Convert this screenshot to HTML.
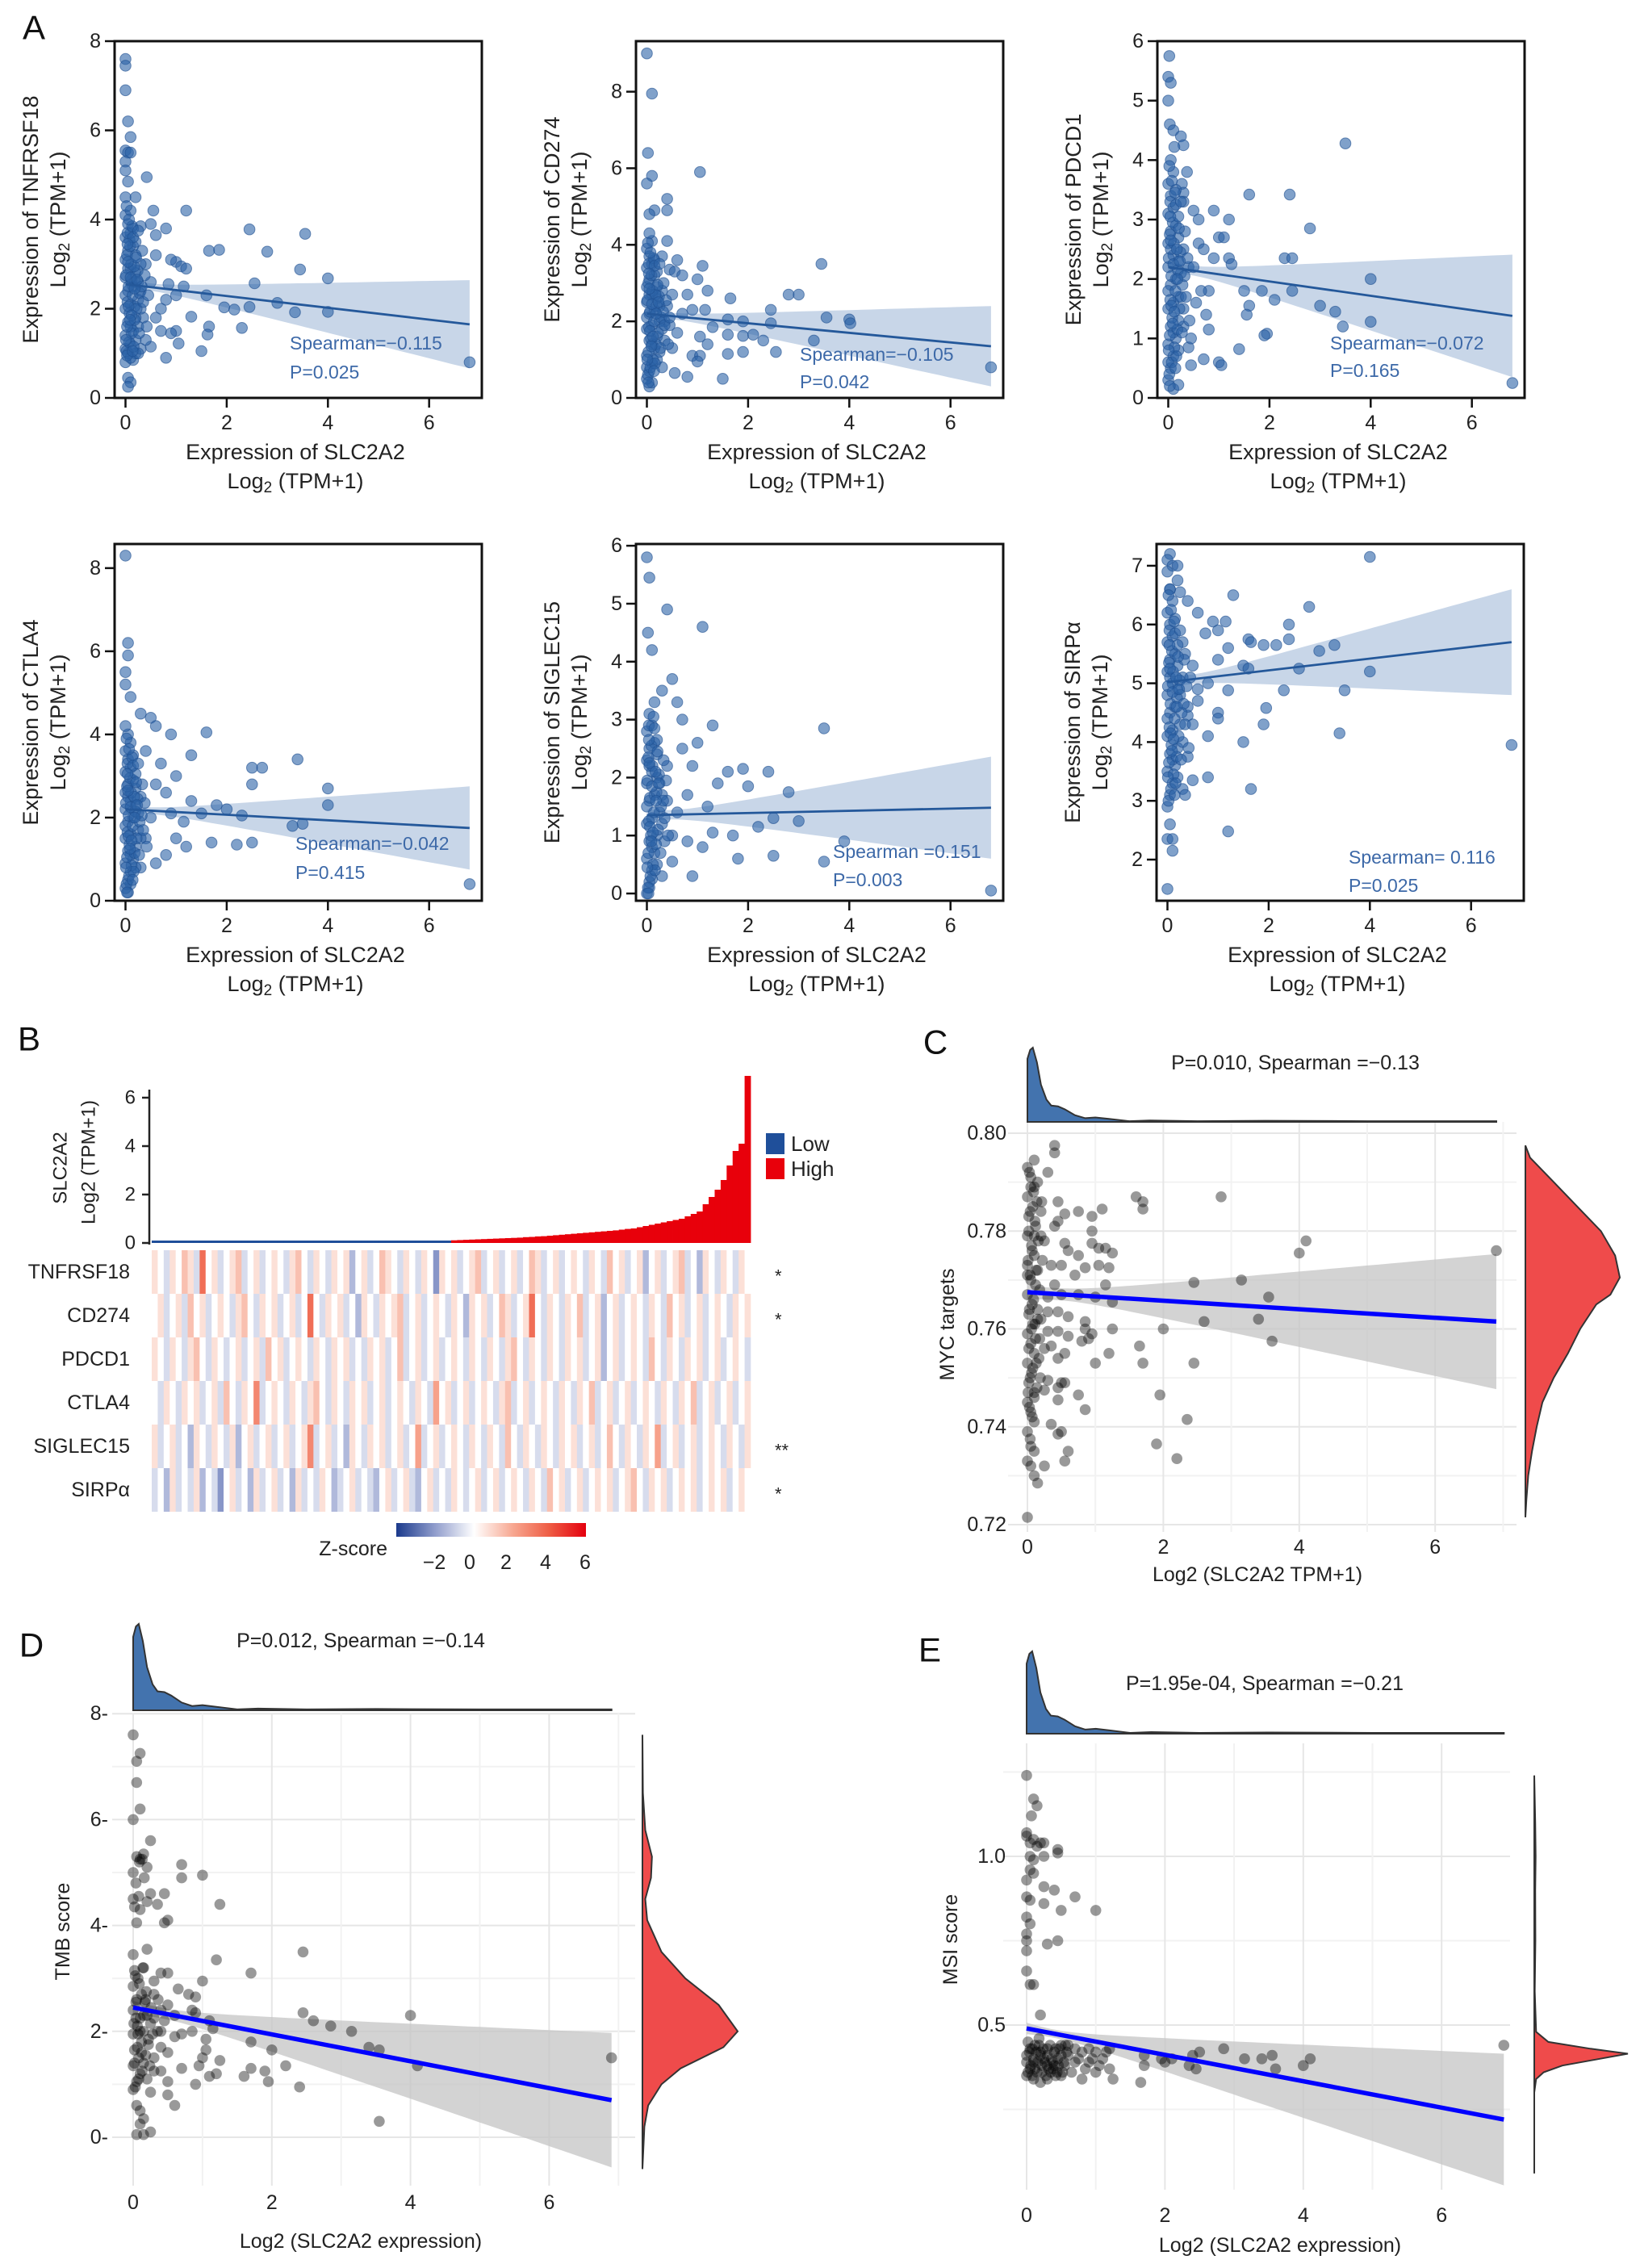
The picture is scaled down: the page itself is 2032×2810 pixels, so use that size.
<!DOCTYPE html>
<html><head><meta charset="utf-8"><style>
html,body{margin:0;padding:0;background:#fff;}
svg{display:block;font-family:"Liberation Sans",Arial,sans-serif;}
</style></head><body>
<svg id="fig" width="2032" height="2810" viewBox="0 0 2032 2810" xmlns="http://www.w3.org/2000/svg">
<defs>
<linearGradient id="zgrad" x1="0" x2="1" y1="0" y2="0">
<stop offset="0" stop-color="#1b3a8c"/><stop offset="0.2" stop-color="#8e9bcb"/><stop offset="0.41" stop-color="#ffffff"/><stop offset="0.62" stop-color="#f7a58e"/><stop offset="0.81" stop-color="#ee5b43"/><stop offset="1" stop-color="#e4000e"/>
</linearGradient>
</defs>
</svg>
<script>
// ---------- Panel A data ----------
const tnfrsf18Pts=[[0,7.6],[0,7.45],[0,6.9],[0.05,6.2],[0.1,5.85],[0,5.55],[0.05,5.5],[0.1,5.5],[0,5.3],[0,5.1],[0.05,4.85],[0,4.5],[0.2,4.5],[0.42,4.95],[0.55,4.2],[1.2,4.2],[0.5,3.9],[0.3,3.85],[0.8,3.8],[0.6,3.65],[2.45,3.78],[3.55,3.68],[1.65,3.3],[1.85,3.32],[2.8,3.28],[3.45,2.88],[4.0,2.68],[2.55,2.57],[1.0,3.05],[1.1,2.95],[1.2,2.9],[0.9,3.1],[1.6,2.3],[1.95,2.03],[2.15,1.98],[2.45,2.04],[3.0,2.13],[3.35,1.92],[4.0,1.93],[1.3,1.82],[1.65,1.6],[1.62,1.42],[2.3,1.57],[1.5,1.05],[0.8,0.9],[1.0,1.5],[1.05,1.22],[0.9,1.45],[6.8,0.8],[0.05,0.45],[0.1,0.35],[0.05,0.25],[0.15,0.85],[0.2,1.0],[0.3,1.1],[0.5,1.15],[0.4,1.3],[0.6,1.8],[0.7,2.0],[0.8,2.2],[0.5,2.6],[0.4,3.0],[0.6,3.2],[0.3,2.4],[0.35,1.8],[0.25,1.6],[0.7,1.5],[0.85,2.55],[1.15,2.5],[1.0,2.3],
[0,0.8],[0.05,1.0],[0.1,1.2],[0,1.4],[0.15,1.5],[0.05,1.7],[0.2,1.8],[0,2.0],[0.1,2.1],[0.25,2.2],[0.05,2.4],[0.15,2.5],[0,2.7],[0.2,2.8],[0.1,2.9],[0,3.1],[0.05,3.3],[0.15,3.4],[0,3.6],[0.1,3.7],[0.05,3.9],[0,4.1],[0.1,4.2],[0.2,3.2],[0.25,2.6],[0.3,2.0],[0.2,1.3],[0.3,3.0],[0.1,1.6],[0,2.3],[0.05,2.9],[0.15,3.8],[0,1.1],[0.1,0.9],[0.25,1.0],[0.12,2.65],[0.08,3.55],[0.18,2.05]];
const tnfrsf18Dense=[[0.02,1.05],[0.07,1.25],[0.12,1.45],[0.03,1.6],[0.18,1.75],[0.08,1.9],[0.22,2.0],[0.04,2.15],[0.14,2.3],[0.28,2.35],[0.06,2.5],[0.19,2.6],[0.01,2.75],[0.24,2.85],[0.11,3.0],[0.03,3.2],[0.09,3.4],[0.2,3.5],[0.04,3.7],[0.13,3.85],[0.07,4.0],[0.02,4.3],[0.17,2.95],[0.32,2.5],[0.35,2.15],[0.27,1.45],[0.33,3.3],[0.16,1.15],[0.06,2.05],[0.1,2.7],[0.21,3.15],[0.03,0.95],[0.15,3.6],[0.38,2.75],[0.45,2.3],[0.42,1.6],[0.25,3.75],[0.12,1.85],[0.05,3.05],[0.18,2.45],[0.01,1.3],[0.09,1.75],[0.23,2.65],[0.04,3.45],[0.14,1.05]];
const cd274Pts=[[0,9.0],[0.1,7.95],[0.02,6.4],[0.1,5.8],[0,5.6],[1.05,5.9],[0.4,5.2],[0.4,4.9],[0.15,4.9],[0.05,4.8],[0.4,4.1],[0.3,3.7],[0.6,3.6],[0.45,3.35],[0.55,3.3],[0.7,3.2],[1.1,3.45],[1.0,3.1],[1.2,2.8],[0.8,2.7],[1.65,2.6],[2.8,2.7],[3.0,2.7],[3.45,3.5],[2.45,2.3],[2.45,1.95],[3.55,2.1],[4.0,2.05],[4.02,1.95],[1.6,2.05],[1.9,2.0],[1.3,1.85],[1.6,1.65],[1.9,1.62],[2.1,1.65],[2.3,1.5],[3.3,1.5],[1.05,1.6],[1.2,1.4],[0.9,1.1],[1.05,1.1],[1.0,0.95],[1.6,1.15],[1.9,1.2],[2.55,1.2],[0.8,0.55],[1.5,0.5],[0.55,0.65],[6.8,0.8],[0.05,0.3],[0.1,0.4],[0.3,0.8],[0.5,1.3],[0.6,1.7],[0.7,2.2],[0.9,2.3],[1.15,2.3],[0.5,2.7],[0.35,2.0],[0.25,1.2],
[0,0.5],[0.05,0.7],[0.1,0.9],[0,1.1],[0.15,1.3],[0.05,1.5],[0.2,1.6],[0,1.8],[0.1,1.9],[0.25,2.0],[0.05,2.2],[0.15,2.3],[0,2.5],[0.2,2.6],[0.1,2.7],[0,2.9],[0.05,3.1],[0.15,3.2],[0,3.4],[0.1,3.5],[0.05,3.7],[0,3.9],[0.1,4.1],[0.05,4.3],[0.2,2.9],[0.25,2.4],[0.3,1.8],[0.2,1.0],[0.3,2.8],[0.1,1.4],[0,2.1],[0.05,2.7],[0.15,3.6],[0,0.8],[0.35,1.5],[0.4,2.4],[0.45,1.9]];
const cd274Dense=[[0.02,0.6],[0.07,0.8],[0.12,1.0],[0.03,1.2],[0.18,1.4],[0.08,1.55],[0.22,1.7],[0.04,1.85],[0.14,2.0],[0.28,2.1],[0.06,2.25],[0.19,2.4],[0.01,2.55],[0.24,2.65],[0.11,2.8],[0.03,3.0],[0.09,3.2],[0.2,3.3],[0.04,3.5],[0.13,3.65],[0.07,3.8],[0.02,4.05],[0.17,2.7],[0.32,2.25],[0.35,1.9],[0.27,1.3],[0.33,3.0],[0.16,0.9],[0.06,1.75],[0.1,2.45],[0.21,2.95],[0.03,0.4],[0.15,3.45],[0.38,2.55],[0.45,2.1],[0.42,1.4],[0.25,3.5],[0.12,1.6],[0.05,2.85],[0.18,2.2],[0.01,1.0],[0.09,1.35],[0.23,2.5],[0.04,3.25],[0.14,0.7]];
const pdcd1Pts=[[0.02,5.75],[0,5.4],[0.05,5.3],[0,5.0],[0.03,4.6],[0.1,4.5],[0.25,4.4],[0.3,4.25],[0.12,4.22],[0.37,3.8],[3.5,4.28],[0.27,3.6],[0.3,3.45],[0.3,3.3],[0.5,3.15],[0.6,3.0],[1.6,3.42],[2.4,3.42],[2.8,2.85],[0.9,3.15],[1.2,3.0],[1.0,2.7],[1.1,2.7],[0.6,2.6],[0.7,2.5],[0.9,2.35],[1.2,2.35],[1.25,2.25],[2.3,2.35],[2.45,2.35],[4.0,2.0],[0.4,2.2],[0.5,2.2],[0.8,1.8],[0.65,1.8],[1.5,1.8],[1.6,1.55],[1.55,1.4],[1.85,1.8],[2.1,1.65],[2.45,1.8],[3.0,1.55],[3.3,1.45],[3.45,1.2],[4.0,1.28],[1.95,1.08],[1.9,1.05],[0.75,1.4],[0.8,1.15],[0.7,0.65],[0.4,0.85],[1.0,0.6],[1.05,0.55],[1.4,0.82],[0.45,0.55],[0.1,0.15],[0.2,0.22],[6.8,0.25],[0.3,1.2],[0.2,1.7],[0.45,1.0],[0.55,1.6],
[0,0.3],[0.05,0.5],[0.1,0.7],[0,0.9],[0.15,1.0],[0.05,1.2],[0.2,1.3],[0,1.5],[0.1,1.6],[0.25,1.7],[0.05,1.9],[0.15,2.0],[0,2.2],[0.2,2.3],[0.1,2.4],[0,2.6],[0.05,2.8],[0.15,2.9],[0,3.1],[0.1,3.2],[0.05,3.4],[0,3.6],[0.1,3.8],[0.05,4.0],[0.2,2.7],[0.25,2.1],[0.3,1.5],[0.2,0.8],[0.3,2.5],[0.1,1.1],[0,1.8],[0.05,2.5],[0.15,3.5],[0,0.6]];
const pdcd1Dense=[[0.02,0.4],[0.07,0.6],[0.12,0.85],[0.03,1.05],[0.18,1.15],[0.08,1.35],[0.22,1.5],[0.04,1.65],[0.14,1.8],[0.28,1.9],[0.06,2.05],[0.19,2.15],[0.01,2.35],[0.24,2.45],[0.11,2.6],[0.03,2.75],[0.09,2.95],[0.2,3.05],[0.04,3.3],[0.13,3.45],[0.07,3.65],[0.02,3.9],[0.17,2.5],[0.32,2.05],[0.35,1.7],[0.27,1.1],[0.33,2.8],[0.16,0.7],[0.06,1.55],[0.1,2.25],[0.21,2.85],[0.03,0.2],[0.15,3.25],[0.38,2.35],[0.42,1.3],[0.25,3.3],[0.12,1.45],[0.05,2.65],[0.18,2.0],[0.01,0.8],[0.09,1.25],[0.23,2.3],[0.04,3.05],[0.14,0.5]];
const ctla4Pts=[[0,8.3],[0.05,6.2],[0.05,5.9],[0,5.5],[0,5.2],[0.1,4.9],[0.3,4.5],[0.5,4.4],[0.6,4.2],[0.9,4.0],[1.6,4.05],[1.3,3.5],[3.4,3.4],[2.5,3.2],[2.7,3.2],[2.5,2.8],[1.8,2.3],[2.0,2.2],[2.3,2.05],[1.5,2.1],[4.0,2.7],[4.0,2.3],[3.5,1.85],[3.3,1.8],[2.5,1.4],[2.2,1.35],[1.7,1.4],[1.2,1.3],[1.0,1.5],[0.8,1.1],[0.6,0.9],[6.8,0.4],[0.05,0.2],[0.1,0.4],[0.3,0.8],[0.4,1.5],[0.5,2.0],[0.8,2.6],[1.0,3.0],[0.7,3.3],[1.3,2.4],[1.15,1.9],[0.9,2.1],[0.6,2.8],[0.4,3.6],
[0,0.3],[0.05,0.5],[0.1,0.7],[0,0.9],[0.15,1.0],[0.05,1.2],[0.2,1.3],[0,1.5],[0.1,1.6],[0.25,1.7],[0.05,1.9],[0.15,2.0],[0,2.2],[0.2,2.3],[0.1,2.4],[0,2.6],[0.05,2.8],[0.15,2.9],[0,3.1],[0.1,3.2],[0.05,3.4],[0,3.6],[0.1,3.8],[0.05,4.0],[0.2,2.7],[0.25,2.1],[0.3,1.5],[0.2,0.8],[0.3,2.5],[0.1,1.1],[0,1.8],[0.05,2.5],[0.15,3.5],[0,4.2]];
const ctla4Dense=[[0.02,0.4],[0.07,0.6],[0.12,0.85],[0.03,1.05],[0.18,1.15],[0.08,1.35],[0.22,1.5],[0.04,1.65],[0.14,1.8],[0.28,1.9],[0.06,2.05],[0.19,2.15],[0.01,2.35],[0.24,2.45],[0.11,2.6],[0.03,2.75],[0.09,2.95],[0.2,3.05],[0.04,3.3],[0.13,3.45],[0.07,3.65],[0.02,3.9],[0.17,2.5],[0.32,2.05],[0.35,1.7],[0.27,1.1],[0.33,2.8],[0.16,0.7],[0.06,1.55],[0.1,2.25],[0.21,2.85],[0.03,0.2],[0.15,3.25],[0.38,2.35],[0.42,1.3],[0.25,3.3],[0.12,1.45],[0.05,2.65],[0.18,2.0],[0.01,0.8],[0.09,1.25],[0.23,2.3],[0.04,3.05],[0.14,0.5]];
const siglec15Pts=[[0,5.8],[0.05,5.45],[0.02,4.5],[0.1,4.2],[0.4,4.9],[1.1,4.6],[0.3,3.5],[0.5,3.7],[0.6,3.3],[0.7,3.0],[1.3,2.9],[1.0,2.6],[0.9,2.2],[1.6,2.1],[1.9,2.15],[2.4,2.1],[3.5,2.85],[1.4,1.9],[2.0,1.85],[2.8,1.75],[2.5,1.3],[2.2,1.15],[3.0,1.25],[1.7,1.0],[1.3,1.05],[1.1,0.8],[1.8,0.6],[2.5,0.65],[3.5,0.55],[3.9,0.9],[0.9,0.3],[0.3,0.3],[0.5,0.55],[6.8,0.05],[0.05,0.1],[0.1,0.25],[0.6,1.4],[0.8,1.7],[1.2,1.5],[0.4,2.2],[0.7,2.5],[0.5,1.0],[0.8,0.9],
[0,0.0],[0.05,0.2],[0.1,0.4],[0,0.6],[0.15,0.7],[0.05,0.9],[0.2,1.0],[0,1.2],[0.1,1.3],[0.25,1.4],[0.05,1.6],[0.15,1.7],[0,1.9],[0.2,2.0],[0.1,2.1],[0,2.3],[0.05,2.5],[0.15,2.6],[0,2.8],[0.1,2.9],[0.05,3.1],[0.2,2.4],[0.25,1.9],[0.3,1.2],[0.2,0.5],[0.3,1.7],[0.1,0.8],[0,1.5],[0.05,2.2],[0.15,3.3],[0.35,0.9],[0.4,1.6]];
const siglec15Dense=[[0.02,0.1],[0.07,0.3],[0.12,0.5],[0.03,0.7],[0.18,0.85],[0.08,1.0],[0.22,1.1],[0.04,1.25],[0.14,1.4],[0.28,1.5],[0.06,1.65],[0.19,1.75],[0.01,1.95],[0.24,2.05],[0.11,2.2],[0.03,2.35],[0.09,2.55],[0.2,2.65],[0.04,2.9],[0.13,3.05],[0.17,2.1],[0.32,1.6],[0.35,1.3],[0.27,0.7],[0.33,2.3],[0.16,0.4],[0.06,1.15],[0.1,1.85],[0.21,2.45],[0.03,0.0],[0.15,2.85],[0.38,1.95],[0.42,1.0],[0.12,1.05],[0.05,2.25],[0.18,1.6],[0.01,0.45],[0.09,0.9],[0.23,1.9],[0.04,2.65]];
const sirpaPts=[[0.05,7.2],[0,7.1],[0.1,7.0],[0.2,7.0],[0.2,6.75],[0,6.9],[0.25,6.55],[0.05,6.6],[1.3,6.5],[2.8,6.3],[4.0,7.15],[0.4,6.4],[0.6,6.2],[0.9,6.05],[1.15,6.05],[1.0,5.9],[0.75,5.85],[1.6,5.75],[1.65,5.7],[1.9,5.65],[2.15,5.65],[2.4,6.0],[2.4,5.75],[3.3,5.65],[3.0,5.55],[1.2,5.6],[1.5,5.3],[1.6,5.25],[2.6,5.25],[4.0,5.2],[1.2,4.88],[2.3,4.88],[3.5,4.88],[1.0,4.5],[1.0,4.4],[1.95,4.58],[1.9,4.3],[0.8,4.1],[1.5,4.0],[3.4,4.15],[6.8,3.95],[0.4,3.75],[0.3,3.2],[0.35,3.1],[0.5,3.35],[0.8,3.4],[1.65,3.2],[1.2,2.48],[0.05,2.6],[0,2.35],[0.1,2.35],[0.1,2.15],[0,1.5],[0.6,4.7],[0.4,4.45],[0.5,5.3],[0.3,5.7],[0.8,5.0],[1.0,5.4],[0.6,4.9],
[0,2.9],[0.05,3.1],[0.1,3.3],[0,3.5],[0.15,3.6],[0.05,3.8],[0.2,3.9],[0,4.1],[0.1,4.2],[0.25,4.3],[0.05,4.5],[0.15,4.6],[0,4.8],[0.2,4.9],[0.1,5.0],[0,5.2],[0.05,5.4],[0.15,5.5],[0,5.7],[0.1,5.8],[0.05,6.0],[0,6.2],[0.1,6.4],[0.05,6.6],[0.2,5.3],[0.25,4.8],[0.3,4.0],[0.2,3.4],[0.3,5.1],[0.1,3.7],[0,4.4],[0.05,5.1],[0.15,6.1],[0.35,5.5],[0.4,4.6]];
const sirpaDense=[[0.02,3.0],[0.07,3.2],[0.12,3.45],[0.03,3.65],[0.18,3.75],[0.08,3.95],[0.22,4.1],[0.04,4.25],[0.14,4.4],[0.28,4.5],[0.06,4.65],[0.19,4.75],[0.01,4.95],[0.24,5.05],[0.11,5.2],[0.03,5.35],[0.09,5.55],[0.2,5.65],[0.04,5.9],[0.13,6.05],[0.07,6.25],[0.02,6.5],[0.17,5.1],[0.32,4.65],[0.35,4.3],[0.27,3.7],[0.33,5.4],[0.16,3.3],[0.06,4.15],[0.1,4.85],[0.21,5.45],[0.15,5.85],[0.38,4.95],[0.42,3.9],[0.25,5.9],[0.12,4.05],[0.05,5.25],[0.18,4.6],[0.01,3.4],[0.09,3.85],[0.23,4.9],[0.04,5.65],[0.14,3.1],[0.45,5.1],[0.5,4.3]];
// fit params: [y at x=0, y at x=6.8, half-width at 6.8, min half-width]
const tnfrsf18Fit=[2.55,1.65,0.99,0.08];
const cd274Fit=[2.2,1.35,1.05,0.08];
const pdcd1Fit=[2.2,1.38,1.03,0.08];
const ctla4Fit=[2.2,1.75,1.0,0.08];
const siglec15Fit=[1.35,1.48,0.88,0.08];
const sirpaFit=[5.02,5.7,0.9,0.08];

// ---------- Panel B data ----------
const heatGenes=['TNFRSF18','CD274','PDCD1','CTLA4','SIGLEC15','SIRPα'];
const heatStars=['*','*','','','**','*'];
const heatTNFRSF18=[1,0,-1,1,0,2,1,-1,5,0,1,-1,0,1,2,-1,0,1,-1,0,1,0,-1,1,2,0,-1,1,0,-1,1,0,1,-2,0,1,-1,0,2,1,0,-1,1,0,-1,1,0,-3,1,0,1,-1,0,1,2,-1,0,1,-1,0,1,-1,0,2,1,-1,0,1,-1,0,1,0,-1,1,0,-1,2,0,1,-1,0,1,-2,0,1,-1,0,1,2,-1,0,-2,1,0,-1,1,0,-1,1,0];
const heatCD274=[0,1,-1,0,1,-1,2,0,1,-1,0,1,0,-1,1,2,0,-1,1,0,1,-1,0,1,-1,0,5,0,-1,1,0,1,-1,0,-2,1,0,-1,1,0,1,2,-1,0,1,-1,0,1,0,-1,1,0,-2,1,0,1,-1,0,2,1,-1,0,1,5,0,-1,1,0,-1,1,0,2,-1,0,1,-2,0,1,-1,0,1,0,-1,1,0,-1,2,0,1,-1,0,1,-1,0,1,0,-1,1,0,1];
const heatPDCD1=[1,0,-1,1,0,-1,1,2,0,-1,1,0,-1,0,1,-1,0,1,-1,2,0,1,-1,0,1,0,-1,1,0,-1,1,0,1,-1,0,-1,1,0,1,-1,0,2,-1,0,1,-1,0,1,-1,0,1,0,-1,1,0,-1,1,0,-1,1,2,0,-1,1,0,-1,1,0,-1,1,0,1,-1,0,1,-2,0,1,-1,0,1,0,-1,2,0,-1,1,0,-1,1,0,1,-1,0,1,-1,0,1,0,-1];
const heatCTLA4=[0,-1,1,0,-1,1,0,1,-1,0,1,-1,2,0,-1,1,0,4,-1,0,1,0,-1,1,0,-1,1,2,0,-1,1,0,-1,1,0,1,-1,0,1,-1,0,1,0,-1,1,0,-1,3,0,1,-1,0,1,-1,0,1,0,-1,1,2,-1,0,1,-1,0,1,0,-1,1,0,-1,1,0,2,-1,0,1,-1,0,1,-1,0,1,0,-1,1,0,-1,1,0,2,-1,0,1,-1,0,1,-1,0,1];
const heatSIGLEC15=[1,-1,0,1,-1,0,-2,1,0,-1,1,0,-1,1,-2,0,1,-1,0,1,-1,0,1,-1,0,1,4,-1,0,1,-1,0,-2,1,0,-1,1,0,1,-1,0,1,-1,0,3,-1,0,1,-1,0,1,0,-1,1,0,-1,1,0,-1,2,0,-1,1,0,-1,1,0,-1,1,0,1,-1,0,1,-1,0,2,0,-1,1,0,-1,1,0,3,-1,0,1,-1,0,1,-1,0,1,0,-1,1,0,-1,1];
const heatSIRPA=[-1,0,-2,1,-1,0,-1,1,-2,0,-1,-3,0,1,-1,0,-2,1,-1,0,1,-1,0,-2,1,-1,0,-1,1,0,-2,-1,0,1,-1,0,-1,-2,0,1,-1,0,1,-1,-2,0,1,-1,0,-1,1,0,-1,0,1,-1,0,1,-1,0,1,0,-1,1,0,-1,2,0,1,-1,0,1,-1,0,1,0,1,-1,0,1,2,0,-1,1,0,1,-1,0,1,0,1,-1,0,1,0,1,-1,0,1,0];
const barGroups=['Low','High'];
const barValues=[0.02,0.02,0.02,0.02,0.02,0.02,0.02,0.02,0.02,0.02,0.02,0.02,0.02,0.02,0.02,0.02,0.02,0.02,0.02,0.02,0.03,0.03,0.03,0.03,0.03,0.03,0.03,0.03,0.03,0.03,0.04,0.04,0.04,0.04,0.04,0.05,0.05,0.05,0.05,0.05,0.06,0.06,0.06,0.07,0.07,0.08,0.08,0.09,0.09,0.1,
0.11,0.12,0.13,0.14,0.15,0.16,0.17,0.18,0.19,0.2,0.21,0.22,0.24,0.25,0.27,0.28,0.3,0.32,0.34,0.36,0.38,0.4,0.42,0.44,0.46,0.48,0.5,0.52,0.55,0.58,0.6,0.65,0.7,0.75,0.8,0.85,0.9,0.95,1.0,1.1,1.2,1.3,1.6,1.9,2.2,2.6,3.2,3.8,4.1,6.9];
const barLowCount=50;

// ---------- Panel C data ----------
const mycPts=[[0.4,0.7975],[0.4,0.796],[0.1,0.7945],[0.3,0.792],[0.15,0.790],[1.6,0.787],[1.7,0.786],[1.7,0.7845],[2.85,0.787],[0.45,0.786],[0.55,0.7835],[0.75,0.784],[0.95,0.783],[1.1,0.7845],[0.45,0.782],[0.4,0.781],[0.25,0.778],[0.55,0.7775],[0.6,0.776],[0.75,0.775],[0.95,0.7775],[0.95,0.780],[1.05,0.7765],[1.15,0.7765],[1.25,0.7755],[4.1,0.778],[4.0,0.7755],[6.9,0.776],[0.35,0.773],[0.5,0.773],[0.7,0.771],[0.85,0.7725],[1.05,0.773],[1.2,0.7725],[1.15,0.769],[3.15,0.770],[2.45,0.7695],[0.4,0.769],[0.3,0.7665],[0.5,0.767],[0.75,0.767],[1.0,0.7665],[1.25,0.7655],[3.55,0.7665],[0.3,0.7635],[0.45,0.7635],[0.6,0.7625],[0.85,0.7615],[0.85,0.760],[1.25,0.760],[2.0,0.760],[2.6,0.7615],[3.4,0.762],[0.3,0.7595],[0.45,0.7595],[0.6,0.7585],[0.8,0.7575],[0.9,0.758],[0.95,0.759],[3.6,0.7575],[1.65,0.7565],[0.35,0.7565],[0.55,0.755],[0.45,0.754],[1.2,0.755],[1.7,0.753],[2.45,0.753],[1.0,0.753],[0.3,0.7495],[0.5,0.749],[0.55,0.749],[0.45,0.748],[0.25,0.7475],[0.75,0.7465],[0.45,0.7455],[1.95,0.7465],[0.85,0.7435],[2.35,0.7415],[0.35,0.7405],[0.5,0.739],[0.45,0.7385],[1.9,0.7365],[2.2,0.7335],[0.6,0.735],[0.55,0.733],[0.25,0.732],[0.1,0.730],[0.15,0.7285],[0,0.7215],[0.05,0.736],[0.1,0.735],[0,0.733],[0.05,0.732],
[0,0.793],[0.05,0.791],[0.1,0.789],[0,0.787],[0.08,0.785],[0.02,0.783],[0.12,0.781],[0,0.779],[0.06,0.777],[0.1,0.775],[0,0.773],[0.04,0.771],[0.12,0.769],[0,0.767],[0.07,0.765],[0.02,0.763],[0.11,0.761],[0,0.759],[0.05,0.757],[0.1,0.755],[0,0.753],[0.06,0.751],[0.02,0.749],[0.1,0.747],[0,0.745],[0.05,0.743],[0.1,0.741],[0,0.739],[0.04,0.7375],[0.15,0.772],[0.15,0.764],[0.18,0.758],[0.2,0.779],[0.2,0.784],
[0.03,0.792],[0.09,0.788],[0.14,0.786],[0.04,0.784],[0.11,0.782],[0.02,0.780],[0.16,0.778],[0.07,0.776],[0.01,0.774],[0.13,0.772],[0.05,0.770],[0.18,0.768],[0.09,0.766],[0.03,0.764],[0.15,0.762],[0.06,0.760],[0.12,0.758],[0.02,0.756],[0.17,0.754],[0.08,0.752],[0.04,0.750],[0.14,0.748],[0.1,0.746],[0.03,0.744],[0.07,0.742],[0.2,0.762],[0.22,0.774],[0.25,0.756],[0.19,0.750],[0.21,0.786],[0.05,0.789],[0.1,0.779],[0,0.771],[0.08,0.761],[0.13,0.753],[0.01,0.747]];
const mycFit=[0.7675,0.7615,0.0138,0.0012];
const xDensVals=[[0,0.85],[0.04,0.97],[0.08,1.0],[0.14,0.8],[0.2,0.5],[0.28,0.3],[0.35,0.22],[0.45,0.21],[0.55,0.17],[0.7,0.09],[0.85,0.05],[1.0,0.06],[1.2,0.04],[1.5,0.01],[1.8,0.02],[2.5,0.01],[3.5,0.015],[5.0,0.01],[6.9,0.01]];
const mycYDens=[[0.7975,0],[0.795,0.05],[0.79,0.3],[0.785,0.55],[0.78,0.8],[0.775,0.95],[0.7705,1.0],[0.767,0.9],[0.765,0.75],[0.76,0.58],[0.755,0.45],[0.75,0.3],[0.745,0.18],[0.74,0.12],[0.735,0.07],[0.73,0.03],[0.725,0.01],[0.7215,0]];

// ---------- Panel D data ----------
const tmbPts=[[0,7.6],[0.05,7.1],[0.1,7.25],[0.05,6.7],[0.1,6.2],[0,6.0],[0.25,5.6],[0.15,5.35],[0.1,5.25],[0.05,5.3],[0,5.0],[0.2,5.1],[0.7,5.15],[0.7,4.9],[1.0,4.95],[0.25,4.6],[0.45,4.6],[0.35,4.4],[0.2,4.45],[0.1,4.3],[1.25,4.4],[0.5,4.1],[0.45,4.05],[0.05,4.05],[0,4.5],[0.2,3.55],[0,3.45],[2.45,3.5],[1.2,3.35],[1.7,3.1],[0.5,3.1],[0.4,3.1],[0.15,3.2],[1.0,2.95],[0.3,2.95],[0.8,2.7],[0.9,2.65],[0.65,2.8],[0.5,2.5],[0.4,2.4],[0.85,2.4],[0.9,2.35],[2.45,2.35],[2.6,2.2],[2.85,2.1],[3.15,2.0],[4.0,2.3],[1.1,2.2],[1.15,2.05],[0.85,2.0],[0.6,1.9],[0.7,1.95],[1.7,1.8],[2.0,1.65],[1.05,1.65],[1.05,1.85],[3.4,1.7],[3.55,1.65],[4.1,1.35],[6.9,1.5],[1.25,1.45],[1.0,1.5],[0.95,1.35],[2.2,1.35],[1.7,1.3],[1.6,1.15],[1.9,1.25],[1.95,1.05],[2.4,0.95],[1.2,1.2],[1.1,1.15],[0.9,1.0],[0.5,1.05],[0.4,1.25],[0.3,1.25],[0.5,0.8],[0.25,0.85],[0.6,0.6],[3.55,0.3],[0.05,0.6],[0.1,0.5],[0.15,0.35],[0.1,0.25],[0.05,0.05],[0.15,0.05],[0.25,0.1],[0.3,1.5],[0.5,1.6],[0.4,2.0],[0.2,2.3],[0.3,2.7],[0.6,2.3],[0.7,1.3],
[0,0.9],[0.05,1.05],[0.1,1.2],[0,1.35],[0.08,1.5],[0.02,1.65],[0.12,1.8],[0,1.95],[0.06,2.1],[0.1,2.25],[0,2.4],[0.04,2.55],[0.12,2.7],[0,2.85],[0.07,3.0],[0.02,3.15],[0.15,1.4],[0.15,2.0],[0.18,2.6],[0.2,1.1],[0.22,1.75],[0.25,2.15],
[0.03,0.95],[0.08,1.1],[0.13,1.25],[0.02,1.4],[0.18,1.55],[0.06,1.7],[0.22,1.85],[0.1,2.0],[0.01,2.15],[0.15,2.3],[0.26,2.45],[0.05,2.6],[0.19,2.75],[0.09,2.9],[0.03,3.05],[0.14,3.2],[0.28,1.95],[0.24,1.35],[0.3,2.25],[0.07,1.95],[0.12,1.6],[0.17,2.55],[0.04,2.25],[0.09,5.2],[0.13,5.25],[0.04,4.8],[0.08,4.55],[0.02,4.35],[0.16,4.9],[0.35,2.0],[0.4,1.7],[0.36,2.6],[0.45,2.2]];
const tmbFit=[2.45,0.7,1.27,0.1];
const tmbYDens=[[7.6,0],[6.5,0.005],[5.8,0.03],[5.3,0.1],[4.9,0.09],[4.5,0.03],[4.1,0.05],[3.5,0.2],[3.0,0.45],[2.5,0.8],[2.0,1.0],[1.7,0.85],[1.3,0.4],[1.0,0.2],[0.6,0.06],[0.2,0.02],[-0.6,0]];

// ---------- Panel E data ----------
const msiPts=[[0,1.24],[0.1,1.17],[0.15,1.15],[0.07,1.12],[0,1.07],[0,1.06],[0.1,1.05],[0.05,1.04],[0.2,1.04],[0.15,1.03],[0.25,1.04],[0.45,1.02],[0.45,1.01],[0.25,1.0],[0.05,1.0],[0.1,0.99],[0.05,0.96],[0.1,0.95],[0,0.93],[0.25,0.91],[0.4,0.9],[0.7,0.88],[0,0.88],[0.05,0.87],[0.25,0.86],[0.5,0.84],[1.0,0.84],[0,0.82],[0.05,0.8],[0,0.77],[0,0.75],[0.45,0.75],[0.3,0.74],[0,0.72],[0,0.66],[0.05,0.62],[0.1,0.62],[0.2,0.53],[6.9,0.44],[2.85,0.43],[2.5,0.42],[2.4,0.41],[4.1,0.4],[3.55,0.41],[3.4,0.40],[3.15,0.40],[1.7,0.41],[1.95,0.40],[2.1,0.40],[1.7,0.38],[2.0,0.39],[2.35,0.38],[2.45,0.37],[4.0,0.38],[3.6,0.37],[1.65,0.33],[1.2,0.43],[1.0,0.42],[0.8,0.42],[0.6,0.41],[1.2,0.37],[1.0,0.36],[0.8,0.34],[1.25,0.34],[0.5,0.35],[0.3,0.34],[0.2,0.33],
[0,0.35],[0.05,0.37],[0.1,0.39],[0,0.41],[0.08,0.43],[0.02,0.45],[0.12,0.44],[0.2,0.42],[0.25,0.4],[0.3,0.38],[0.35,0.36],[0.4,0.42],[0.45,0.4],[0.5,0.44],[0.15,0.36],[0.22,0.38],[0.3,0.43],[0.38,0.39],[0.55,0.38],[0.65,0.36],[0.7,0.43],[0.9,0.39],[0.05,0.43],[0.1,0.34],[0.6,0.44],[0.75,0.4],[0.95,0.4],[1.1,0.4],[0.18,0.46],[0.42,0.35],
[0.02,0.36],[0.06,0.38],[0.1,0.4],[0.14,0.42],[0.18,0.44],[0.22,0.36],[0.26,0.39],[0.3,0.41],[0.34,0.44],[0.38,0.37],[0.42,0.43],[0.46,0.38],[0.5,0.41],[0.54,0.39],[0.58,0.42],[0.04,0.42],[0.08,0.35],[0.12,0.37],[0.16,0.39],[0.2,0.41],[0.24,0.43],[0.28,0.35],[0.32,0.37],[0.36,0.4],[0.4,0.38],[0.44,0.36],[0.48,0.43],[0.52,0.36],[0.56,0.44],[0,0.39],[0.85,0.37],[0.7,0.39],[1.05,0.38],[1.15,0.42],[0.9,0.43]];
const msiFit=[0.49,0.22,0.195,0.012];
const msiYDens=[[1.24,0],[1.1,0.01],[1.0,0.015],[0.9,0.01],[0.75,0.012],[0.6,0.005],[0.48,0.02],[0.45,0.15],[0.43,0.6],[0.415,1.0],[0.40,0.7],[0.38,0.3],[0.36,0.1],[0.34,0.02],[0.3,0],[0.06,0]];

// ================== drawing ==================
const NS='http://www.w3.org/2000/svg';
const svg=document.getElementById('fig');
function tag(el,name,inter){
  
  
}
function mk(tagName,attrs,parent){const e=document.createElementNS(NS,tagName);for(const k in attrs)e.setAttribute(k,attrs[k]);(parent||svg).appendChild(e);return e;}
function grp(name,parent){const g=mk('g',{},parent);tag(g,name,false);return g;}
function txt(s,x,y,size,anchor,parent,name,extra){
  const t=mk('text',Object.assign({x:x,y:y,'font-size':size,'text-anchor':anchor||'middle','dominant-baseline':'central',fill:'#222'},extra||{}),parent);
  t.textContent=s;
  tag(t,name,false);
  return t;
}
function pathFrom(pts){return pts.map((p,i)=>(i?'L':'M')+p[0].toFixed(1)+' '+p[1].toFixed(1)).join(' ');}
function bandPts(fit,xEnd,xm,X,Y){
  const up=[],lo=[];
  for(let i=0;i<=40;i++){const x=xEnd*i/40;const c=fit[0]+(fit[1]-fit[0])*x/xEnd;
    const hw=Math.sqrt(fit[3]*fit[3]+(fit[2]*fit[2]-fit[3]*fit[3])*Math.pow((x-xm)/(xEnd-xm),2));
    up.push([X(x),Y(c+hw)]);lo.push([X(x),Y(c-hw)]);}
  return up.concat(lo.reverse());
}

[['A',42,34],['B',36,1287],['C',1159,1291],['D',39,2038],['E',1152,2044]].forEach(l=>{txt(l[0],l[1],l[2],42,'middle',svg,'panel-label-'+l[0].toLowerCase(),{fill:'#111'});});

// ---------- Panel A ----------
const aPanels=[
 {gene:'TNFRSF18',pts:tnfrsf18Pts.concat(tnfrsf18Dense),fit:tnfrsf18Fit,left:142,top:51,ymin:0,ymax:8,ticks:[0,2,4,6,8],st:['Spearman=−0.115','P=0.025'],sx:217,sy:[374,410]},
 {gene:'CD274',pts:cd274Pts.concat(cd274Dense),fit:cd274Fit,left:788,top:51,ymin:0,ymax:9.32,ticks:[0,2,4,6,8],st:['Spearman=−0.105','P=0.042'],sx:203,sy:[388,422]},
 {gene:'PDCD1',pts:pdcd1Pts.concat(pdcd1Dense),fit:pdcd1Fit,left:1434,top:51,ymin:0,ymax:6,ticks:[0,1,2,3,4,5,6],st:['Spearman=−0.072','P=0.165'],sx:214,sy:[374,408]},
 {gene:'CTLA4',pts:ctla4Pts.concat(ctla4Dense),fit:ctla4Fit,left:142,top:674,ymin:0,ymax:8.58,ticks:[0,2,4,6,8],st:['Spearman=−0.042','P=0.415'],sx:224,sy:[371,407]},
 {gene:'SIGLEC15',pts:siglec15Pts.concat(siglec15Dense),fit:siglec15Fit,left:788,top:674,ymin:-0.125,ymax:6.03,ticks:[0,1,2,3,4,5,6],st:['Spearman =0.151','P=0.003'],sx:244,sy:[381,416]},
 {gene:'SIRPα',pts:sirpaPts.concat(sirpaDense),fit:sirpaFit,left:1433,top:674,ymin:1.3,ymax:7.37,ticks:[2,3,4,5,6,7],st:['Spearman= 0.116','P=0.025'],sx:238,sy:[388,423]}
];
aPanels.forEach((p,pi)=>{
  const W=455,H=442,id=p.gene.toLowerCase().replace('α','a');
  const g=grp('scatter-'+id);
  const X=v=>p.left+13.5+v*62.7, Y=v=>p.top+H-(v-p.ymin)/(p.ymax-p.ymin)*H;
  const clip=mk('clipPath',{id:'clipA'+pi},g);mk('rect',{x:p.left,y:p.top,width:W,height:H},clip);
  const inner=mk('g',{'clip-path':'url(#clipA'+pi+')'},g);
  const band=mk('path',{d:pathFrom(bandPts(p.fit,6.8,0.4,X,Y))+'Z',fill:'#c8d6e8',stroke:'none'},inner);
  tag(band,'confidence-band',false);
  const pg=grp('points',inner);
  p.pts.forEach(d=>{const c=mk('circle',{cx:X(d[0]).toFixed(1),cy:Y(d[1]).toFixed(1),r:6.8,fill:'#2c63a6','fill-opacity':0.6,stroke:'#1e4f8f','stroke-opacity':0.6,'stroke-width':1},pg);
    
    });
  const ln=mk('line',{x1:X(0),y1:Y(p.fit[0]),x2:X(6.8),y2:Y(p.fit[1]),stroke:'#24589a','stroke-width':2.8},inner);
  tag(ln,'regression-line',false);
  const box=mk('rect',{x:p.left,y:p.top,width:W,height:H,fill:'none',stroke:'#111','stroke-width':3},g);
  tag(box,'plot-frame',false);
  p.ticks.forEach(t=>{const y=Y(t);mk('line',{x1:p.left-12,x2:p.left,y1:y,y2:y,stroke:'#111','stroke-width':2.5},g);
    txt(String(t),p.left-17,y,25,'end',g,'y-tick-label');});
  [0,2,4,6].forEach(t=>{const x=X(t);mk('line',{x1:x,x2:x,y1:p.top+H,y2:p.top+H+12,stroke:'#111','stroke-width':2.5},g);
    txt(String(t),x,p.top+H+31,25,'middle',g,'x-tick-label');});
  txt('Expression of SLC2A2',p.left+224,p.top+H+67,27,'middle',g,'x-axis-title');
  const xl=txt('',p.left+224,p.top+H+103,27,'middle',g,'x-axis-title-unit');
  xl.innerHTML='Log<tspan font-size="19" dy="8">2</tspan><tspan dy="-8"> (TPM+1)</tspan>';
  const cy=p.top+H/2;
  txt('Expression of '+p.gene,p.left-104,cy,27,'middle',g,'y-axis-title',{transform:'rotate(-90 '+(p.left-104)+' '+cy+')'});
  const yl=txt('',p.left-70,cy,27,'middle',g,'y-axis-title-unit',{transform:'rotate(-90 '+(p.left-70)+' '+cy+')'});
  yl.innerHTML='Log<tspan font-size="19" dy="8">2</tspan><tspan dy="-8"> (TPM+1)</tspan>';
  txt(p.st[0],p.left+p.sx,p.top+p.sy[0],23,'start',g,'spearman-stat',{fill:'#3d69a8'});
  txt(p.st[1],p.left+p.sx,p.top+p.sy[1],23,'start',g,'p-value-stat',{fill:'#3d69a8'});
});

// ---------- Panel B ----------
(function(){
  const g=grp('expression-heatmap-panel');
  const L=188,R=930,y0=1540,ys=30;
  const Yb=v=>y0-v*ys;
  const bw=(R-L)/barValues.length;
  const bars=grp('sorted-expression-bars',g);
  barValues.forEach((v,i)=>{const low=i<barLowCount;const h=Math.max(low?3:0,v*ys);
    const r=mk('rect',{x:(L+i*bw).toFixed(2),y:(y0-h).toFixed(2),width:(bw+0.4).toFixed(2),height:h.toFixed(2),fill:low?'#1f4f9a':'#e8000b'},bars);
    
    });
  mk('line',{x1:185,x2:185,y1:1350,y2:y0+2,stroke:'#222','stroke-width':2.5},g);
  [0,2,4,6].forEach(t=>{mk('line',{x1:176,x2:185,y1:Yb(t),y2:Yb(t),stroke:'#222','stroke-width':2.5},g);txt(String(t),168,Yb(t),24,'end',g,'bar-y-tick-label');});
  txt('SLC2A2',75,1447,24,'middle',g,'bar-y-axis-title',{transform:'rotate(-90 75 1447)'});
  txt('Log2 (TPM+1)',110,1440,24,'middle',g,'bar-y-axis-title-unit',{transform:'rotate(-90 110 1440)'});
  const lg=grp('group-legend',g);
  const l1=mk('rect',{x:949,y:1404,width:23,height:26,fill:'#1f4f9a'},lg);tag(l1,'legend-swatch-low',false);
  const l2=mk('rect',{x:949,y:1435,width:23,height:26,fill:'#e8000b'},lg);tag(l2,'legend-swatch-high',false);
  txt(barGroups[0],980,1417,26,'start',lg,'legend-label-low');
  txt(barGroups[1],980,1448,26,'start',lg,'legend-label-high');
  const rows=[heatTNFRSF18,heatCD274,heatPDCD1,heatCTLA4,heatSIGLEC15,heatSIRPA];
  function col(z){
    const lerp=(a,b,t)=>a.map((v,i)=>Math.round(v+(b[i]-v)*t));
    const W=[255,255,255],B2=[142,155,203],B4=[27,58,140],R2=[247,165,142],R4=[238,91,67],R6=[228,0,14];
    let c;
    if(z>=0){c=z<=2?lerp(W,R2,z/2):z<=4?lerp(R2,R4,(z-2)/2):lerp(R4,R6,Math.min(1,(z-4)/2));}
    else{const a=-z;c=a<=2?lerp(W,B2,a/2):lerp(B2,B4,Math.min(1,(a-2)/2));}
    return 'rgb('+c.join(',')+')';
  }
  const rh=54,top=1549;
  rows.forEach((row,ri)=>{
    const rg=grp('heatmap-row-'+heatGenes[ri].toLowerCase().replace('α','a'),g);
    const cw=(R-L)/row.length;
    row.forEach((z,ci)=>{const r=mk('rect',{x:(L+ci*cw).toFixed(2),y:top+ri*rh,width:(cw+0.3).toFixed(2),height:rh,fill:col(z*0.7)},rg);
      
      });
    txt(heatGenes[ri],161,top+ri*rh+27,25,'end',g,'heatmap-row-label');
    if(heatStars[ri])txt(heatStars[ri],960,top+ri*rh+32,22,'start',g,'significance-star');
  });
  const cb=mk('rect',{x:491,y:1887,width:235,height:17,fill:'url(#zgrad)'},g);tag(cb,'zscore-colorbar',false);
  txt('Z-score',480,1919,25,'end',g,'colorbar-title');
  [['−2',538],['0',582],['2',627],['4',676],['6',725]].forEach(t=>txt(t[0],t[1],1936,25,'middle',g,'colorbar-tick-label'));
})();

// ---------- Panels C, D, E ----------
function marginal(cfg){
  const g=grp(cfg.name);
  const X=cfg.X,Y=cfg.Y;
  mk('rect',{x:cfg.px0,y:cfg.py0,width:cfg.px1-cfg.px0,height:cfg.py1-cfg.py0,fill:'#ffffff'},g);
  const gg=grp('gridlines',g);
  cfg.ygrid.forEach(v=>{const y=Y(v);if(y<cfg.py0||y>cfg.py1)return;mk('line',{x1:cfg.px0,x2:cfg.px1,y1:y,y2:y,stroke:cfg.ymaj.some(m=>Math.abs(m-v)<1e-9)?'#e6e6e6':'#f2f2f2','stroke-width':2},gg);});
  [0,1,2,3,4,5,6,7].forEach(v=>{const x=X(v);if(x<cfg.px0||x>cfg.px1)return;mk('line',{x1:x,x2:x,y1:cfg.py0,y2:cfg.py1,stroke:v%2?'#f2f2f2':'#e6e6e6','stroke-width':2},gg);});
  const clipId='clip'+cfg.name;
  const clip=mk('clipPath',{id:clipId},g);mk('rect',{x:cfg.px0,y:cfg.py0,width:cfg.px1-cfg.px0,height:cfg.py1-cfg.py0},clip);
  const inner=mk('g',{'clip-path':'url(#'+clipId+')'},g);
  const b=mk('path',{d:pathFrom(bandPts(cfg.fit,6.9,0.4,X,Y))+'Z',fill:'#c4c4c4','fill-opacity':0.75},inner);tag(b,'confidence-band',false);
  const pg=grp('points',inner);
  cfg.pts.forEach(d=>{const c=mk('circle',{cx:X(d[0]).toFixed(1),cy:Y(d[1]).toFixed(1),r:6.8,fill:'#000','fill-opacity':0.4},pg);
    
    });
  const ln=mk('line',{x1:X(0),y1:Y(cfg.fit[0]),x2:X(6.9),y2:Y(cfg.fit[1]),stroke:'#0000ff','stroke-width':5.5},inner);tag(ln,'regression-line',false);
  const td=xDensVals.map(d=>[X(d[0]),cfg.tdBase-d[1]*cfg.tdH]);
  const tp=mk('path',{d:pathFrom([[X(0),cfg.tdBase]].concat(td).concat([[X(6.9),cfg.tdBase]]))+'Z',fill:'#4373ae',stroke:'#333','stroke-width':2},g);tag(tp,'x-density',false);
  const rd=cfg.yDens.map(d=>[cfg.rdBase+d[1]*cfg.rdW,Y(d[0])]);
  const rp=mk('path',{d:pathFrom([[cfg.rdBase,Y(cfg.yDens[0][0])]].concat(rd).concat([[cfg.rdBase,Y(cfg.yDens[cfg.yDens.length-1][0])]]))+'Z',fill:'#ef4b4b',stroke:'#333','stroke-width':2},g);tag(rp,'y-density',false);
  cfg.yticks.forEach(t=>txt(t[0],cfg.ytx,Y(t[1]),25,'end',g,'y-tick-label'));
  [0,2,4,6].forEach(t=>txt(String(t),X(t),cfg.xty,25,'middle',g,'x-tick-label'));
  txt(cfg.xtitle,cfg.xtitleX,cfg.xtitleY,25,'middle',g,'x-axis-title');
  txt(cfg.ytitle,cfg.ytitleX,cfg.ytitleY,25,'middle',g,'y-axis-title',{transform:'rotate(-90 '+cfg.ytitleX+' '+cfg.ytitleY+')'});
  txt(cfg.title,cfg.titleX,cfg.titleY,25,'middle',g,'stat-title');
}
marginal({name:'myc-targets-scatter',X:v=>1273+v*84.2,Y:v=>1404-(v-0.80)*6062.5,px0:1249,px1:1879,py0:1390,py1:1898,
  ygrid:[0.72,0.73,0.74,0.75,0.76,0.77,0.78,0.79,0.80],ymaj:[0.72,0.74,0.76,0.78,0.80],pts:mycPts,fit:mycFit,
  tdBase:1390,tdH:92,yDens:mycYDens,rdBase:1890,rdW:117,
  yticks:[['0.80',0.80],['0.78',0.78],['0.76',0.76],['0.74',0.74],['0.72',0.72]],ytx:1247,xty:1917,
  xtitle:'Log2 (SLC2A2 TPM+1)',xtitleX:1558,xtitleY:1951,ytitle:'MYC targets',ytitleX:1174,ytitleY:1641,
  title:'P=0.010, Spearman =−0.13',titleX:1605,titleY:1317});
marginal({name:'tmb-score-scatter',X:v=>165+v*85.9,Y:v=>2648-v*65.6,px0:139,px1:787,py0:2123,py1:2708,
  ygrid:[0,1,2,3,4,5,6,7,8],ymaj:[0,2,4,6,8],pts:tmbPts,fit:tmbFit,
  tdBase:2119,tdH:107,yDens:tmbYDens,rdBase:796,rdW:118,
  yticks:[['8-',8],['6-',6],['4-',4],['2-',2],['0-',0]],ytx:134,xty:2729,
  xtitle:'Log2 (SLC2A2 expression)',xtitleX:447,xtitleY:2777,ytitle:'TMB score',ytitleX:78,ytitleY:2393,
  title:'P=0.012, Spearman =−0.14',titleX:447,titleY:2033});
marginal({name:'msi-score-scatter',X:v=>1272+v*85.7,Y:v=>2509-(v-0.5)*418,px0:1243,px1:1871,py0:2160,py1:2713,
  ygrid:[0.25,0.5,0.75,1.0,1.25],ymaj:[0.5,1.0],pts:msiPts,fit:msiFit,
  tdBase:2148,tdH:102,yDens:msiYDens,rdBase:1901,rdW:116,
  yticks:[['1.0',1.0],['0.5',0.5]],ytx:1246,xty:2745,
  xtitle:'Log2 (SLC2A2 expression)',xtitleX:1586,xtitleY:2782,ytitle:'MSI score',ytitleX:1178,ytitleY:2403,
  title:'P=1.95e-04, Spearman =−0.21',titleX:1567,titleY:2086});
</script>
</body></html>
